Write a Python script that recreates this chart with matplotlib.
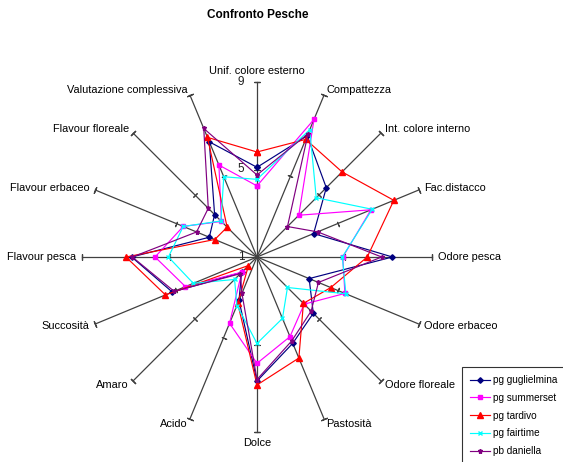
import numpy as np
import matplotlib
matplotlib.use("Agg")
import matplotlib.pyplot as plt

plt.rcParams['font.family'] = ['Liberation Sans', 'DejaVu Sans']

categories = ["Unif. colore esterno", "Compattezza", "Int. colore interno", "Fac.distacco",
              "Odore pesca", "Odore erbaceo", "Odore floreale", "Pastosità",
              "Dolce", "Acido", "Amaro", "Succosità",
              "Flavour pesca", "Flavour erbaceo", "Flavour floreale", "Valutazione complessiva"]

series_names = ["pg guglielmina", "pg summerset", "pg tardivo", "pg fairtime", "pb daniella"]

guglielmina = [5.1, 7.0, 5.48, 3.8, 7.19, 3.58, 4.64, 5.27, 6.67, 3.15, 2.0, 5.19, 6.73, 3.36, 3.74, 6.7]
summerset   = [4.25, 7.81, 3.7, 6.64, 4.92, 5.35, 4.05, 4.94, 5.86, 4.28, 1.98, 4.54, 5.66, 4.65, 3.3, 5.55]
tardivo     = [5.8, 6.82, 6.5, 7.77, 6.04, 4.65, 4.0, 6.0, 6.85, 3.3, 1.55, 5.53, 6.99, 3.09, 2.93, 6.92]
fairtime    = [4.55, 7.3, 4.83, 6.7, 4.9, 5.4, 2.97, 4.04, 4.95, 3.4, 2.45, 4.15, 5.05, 4.65, 3.33, 4.97]
daniella    = [4.75, 7.1, 2.97, 4.0, 6.7, 4.04, 4.5, 5.15, 6.6, 2.8, 2.08, 5.1, 6.7, 3.99, 4.15, 7.36]

r_min, r_max = 1, 9
r_ticks = [1, 5, 9]

colors = ["#000080", "#FF00FF", "#FF0000", "#00FFFF", "#800080"]
markers = ["D", "s", "^", "x", "*"]
msizes = [2.8, 3.3, 3.8, 3.0, 3.6]

W, H = 563, 462
fig = plt.figure(figsize=(W / 100, H / 100), dpi=100)
cx, cy, R = 257, 257, 175
ax = fig.add_axes([(cx - R) / W, (H - cy - R) / H, 2 * R / W, 2 * R / H], projection='polar')
ax.set_theta_zero_location('N')
ax.set_theta_direction(-1)
ax.set_ylim(r_min, r_max)
ax.grid(False)
ax.spines['polar'].set_visible(False)
ax.set_xticks([])
ax.set_yticks([])
ax.patch.set_alpha(0)

n = len(categories)
angles = np.arange(n) * 2 * np.pi / n

# spokes and tick marks
for i, th in enumerate(angles):
    ax.plot([th, th], [r_min, r_max], color='#404040', lw=0.9, zorder=1, clip_on=False)
    deg = np.degrees(th)
    ax.plot([th], [r_ticks[1]], linestyle='none', marker=(2, 2, 90 - deg), markersize=4,
            color='#404040', mew=0.8, zorder=1, clip_on=False)
    ax.plot([th], [r_ticks[2]], linestyle='none', marker=(2, 2, 90 - deg), markersize=5,
            color='#404040', mew=0.9, zorder=1, clip_on=False)

# category labels
r_lab = r_min + (r_max - r_min) * 181 / 175
for i, (th, lab) in enumerate(zip(angles, categories)):
    s = np.sin(th)
    if abs(s) < 1e-6:
        ha = 'center'
        va = 'bottom' if np.cos(th) > 0 else 'top'
    else:
        ha = 'left' if s > 0 else 'right'
        va = 'center'
    ax.text(th, r_lab, lab, ha=ha, va=va, fontsize=7.9, color='black', clip_on=False)

# radial scale labels
for v in r_ticks:
    ax.annotate(str(v), xy=(0, v), xytext=(-9, 0), textcoords='offset points',
                ha='right', va='center', fontsize=8.5, color='#202020')

all_series = [guglielmina, summerset, tardivo, fairtime, daniella]
handles = []
for name, vals, c, m, ms in zip(series_names, all_series, colors, markers, msizes):
    th = np.concatenate([angles, angles[:1]])
    rv = np.concatenate([vals, vals[:1]])
    h, = ax.plot(th, rv, color=c, lw=0.85, marker=m, markersize=ms, mfc=c, mec=c,
                 mew=1.0, label=name, zorder=3, clip_on=False)
    handles.append(h)

fig.text(258 / W, 1 - 15 / H, "Confronto Pesche", ha='center', va='center',
         fontsize=8.5, fontweight='bold')

leg = fig.legend(handles=handles, loc='upper left', bbox_to_anchor=(462 / W, 1 - 367 / H),
                 fontsize=7.2, frameon=True, fancybox=False, borderpad=0.8,
                 labelspacing=0.78, handlelength=2.0, handletextpad=0.3,
                 borderaxespad=0)
leg.get_frame().set_edgecolor('black')
leg.get_frame().set_linewidth(0.8)

fig.savefig("out.png", dpi=100)
